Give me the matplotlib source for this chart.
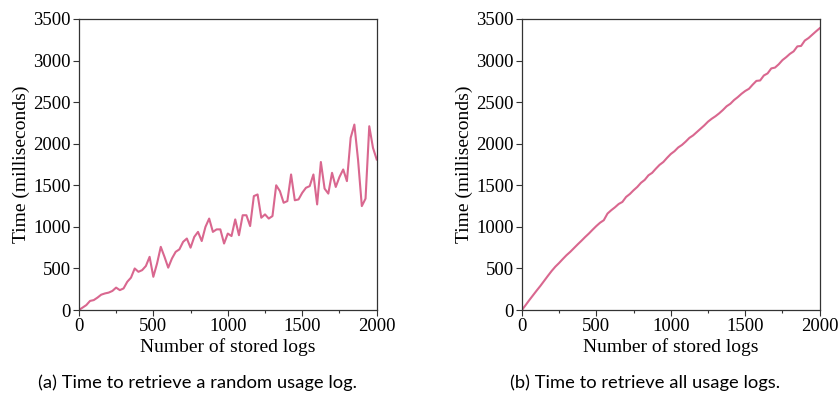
import matplotlib
matplotlib.use("Agg")
import matplotlib.pyplot as plt
from matplotlib.ticker import MultipleLocator

x_logs = list(range(0, 2001, 25))

random_time = [0, 30, 60, 110, 120, 150, 185, 200, 210, 230,
               270, 240, 260, 340, 390, 500, 460, 480, 530, 640,
               400, 560, 760, 640, 510, 620, 700, 730, 820, 860,
               750, 880, 940, 830, 1000, 1100, 940, 970, 970, 800,
               920, 890, 1090, 900, 1140, 1140, 1010, 1370, 1390, 1110,
               1150, 1100, 1130, 1500, 1430, 1290, 1310, 1630, 1320, 1330,
               1410, 1470, 1490, 1630, 1270, 1780, 1460, 1400, 1650, 1480,
               1600, 1690, 1550, 2070, 2230, 1800, 1250, 1340, 2210, 1950,
               1810]

all_time = [0, 59, 120, 178, 236, 292, 352, 412, 470, 522,
            566, 614, 660, 700, 745, 790, 833, 878, 920, 966,
            1010, 1050, 1080, 1160, 1200, 1235, 1275, 1300, 1360, 1395,
            1440, 1480, 1530, 1565, 1620, 1650, 1700, 1746, 1780, 1830,
            1876, 1910, 1955, 1985, 2025, 2070, 2100, 2140, 2180, 2220,
            2265, 2300, 2330, 2365, 2405, 2450, 2480, 2525, 2560, 2600,
            2634, 2660, 2710, 2755, 2760, 2820, 2845, 2905, 2915, 2955,
            3005, 3040, 3080, 3110, 3170, 3175, 3240, 3270, 3310, 3350,
            3388]

x_label = "Number of stored logs"
y_label = "Time (milliseconds)"
captions = ["(a) Time to retrieve a random usage log.",
            "(b) Time to retrieve all usage logs."]
caption_x = [197 / 839, 645 / 839]

line_color = "#d9678f"
serif = ["Liberation Serif", "DejaVu Serif"]
sans = ["Lato", "DejaVu Sans"]

fig = plt.figure(figsize=(8.39, 3.94), dpi=100)
axes = [fig.add_axes([0.094, 0.213, 0.355, 0.739]),
        fig.add_axes([0.622, 0.213, 0.355, 0.739])]

for ax, data, cap, cx in zip(axes, [random_time, all_time], captions, caption_x):
    ax.plot(x_logs, data, color=line_color, lw=1.5)
    ax.set_xlim(0, 2000)
    ax.set_ylim(0, 3500)
    ax.xaxis.set_major_locator(MultipleLocator(500))
    ax.xaxis.set_minor_locator(MultipleLocator(250))
    ax.yaxis.set_major_locator(MultipleLocator(500))
    ax.tick_params(axis="both", which="major", direction="out", length=4,
                   width=0.8, color="#333333", labelsize=13.5, pad=2)
    ax.tick_params(axis="x", which="minor", direction="out", length=2.5,
                   width=0.8, color="#333333")
    for lab in ax.get_xticklabels() + ax.get_yticklabels():
        lab.set_family(serif)
    for sp in ax.spines.values():
        sp.set_color("#333333")
        sp.set_linewidth(0.9)
    ax.set_xlabel(x_label, family=serif, fontsize=14, labelpad=2)
    ax.set_ylabel(y_label, family=serif, fontsize=14, labelpad=2)
    fig.text(cx, 1 - 383 / 394, cap, family=sans,
             fontsize=13.2, ha="center", va="center")

fig.savefig("out.png", dpi=100)
